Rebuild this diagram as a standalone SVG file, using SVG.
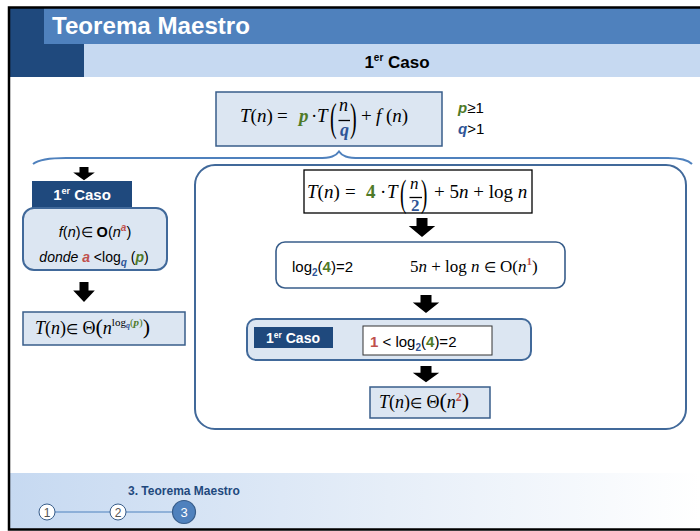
<svg xmlns="http://www.w3.org/2000/svg" width="700" height="531" viewBox="0 0 700 531">
<defs>
<linearGradient id="foot" x1="0" y1="0" x2="1" y2="0">
<stop offset="0" stop-color="#C6D9F1"/>
<stop offset="0.55" stop-color="#E6EEF8"/>
<stop offset="1" stop-color="#FFFFFF"/>
</linearGradient>
<path id="arr" d="M-5,0 H5 V8 H12 L0,19 L-12,8 H-5 Z" fill="#000"/>
</defs>
<style>
.sans{font-family:"Liberation Sans",Arial,sans-serif}
.serif{font-family:"Liberation Serif","Times New Roman",serif}
.it{font-style:italic}
.b{font-weight:bold}
.grn{fill:#4F7A28;font-weight:bold}
.blu{fill:#2F5597;font-weight:bold}
.red{fill:#C0504D;font-weight:bold}
.box{fill:#DCE6F2;stroke:#385D8A;stroke-width:1.5}
.rbox{fill:#DCE6F2;stroke:#41699A;stroke-width:2}
.dark{fill:#1F497D}
.wt{fill:#fff;font-family:"Liberation Sans",Arial,sans-serif;font-weight:bold}
.el{font-size:14px}
</style>
<rect width="700" height="531" fill="#fff"/>
<!-- header -->
<g id="header">
<rect x="9" y="8" width="691" height="36" fill="#4F81BD"/>
<rect x="9" y="8" width="35" height="36" fill="#1F497D"/>
<rect x="9" y="44" width="75" height="33" fill="#1F497D"/>
<rect x="84" y="44" width="616" height="33" fill="#C6D9F1"/>
<text x="52" y="34" class="wt" font-size="23" textLength="198" lengthAdjust="spacingAndGlyphs">Teorema Maestro</text>
<text x="397" y="68" text-anchor="middle" class="sans b" font-size="17" fill="#000">1<tspan font-size="10" dy="-7">er</tspan><tspan dy="7"> Caso</tspan></text>
</g>
<!-- footer -->
<g id="footer">
<rect x="9" y="473" width="691" height="56" fill="url(#foot)"/>
<text x="128" y="495" class="sans b" font-size="12" fill="#1F497D">3. Teorema Maestro</text>
<line x1="55" y1="512" x2="173" y2="512" stroke="#4F81BD" stroke-width="1.2"/>
<g id="step1"><circle cx="47" cy="512" r="8" fill="#fff" stroke="#385D8A" stroke-width="1"/><text x="47" y="516.5" text-anchor="middle" class="sans" font-size="12" fill="#555">1</text></g>
<g id="step2"><circle cx="118" cy="512" r="8" fill="#fff" stroke="#385D8A" stroke-width="1"/><text x="118" y="516.5" text-anchor="middle" class="sans" font-size="12" fill="#555">2</text></g>
<g id="step3"><circle cx="184" cy="512" r="11.5" fill="#4F81BD" stroke="#385D8A" stroke-width="1.2"/><text x="184" y="517" text-anchor="middle" class="sans" font-size="13" fill="#fff">3</text></g>
</g>
<!-- frame -->
<path d="M700,7.5 H9 V529.5 H700" fill="none" stroke="#000" stroke-width="2.5"/>

<!-- main formula -->
<g id="formula">
<rect x="216" y="92" width="226" height="54" class="box"/>
<g class="serif" font-size="19" fill="#000">
<text x="240" y="122"><tspan class="it">T</tspan>(<tspan class="it">n</tspan>)</text>
<text x="277" y="122">=</text>
<text x="299" y="122" class="it grn">p</text>
<text x="311" y="122">·</text>
<text x="317" y="122" class="it">T</text>
<text transform="translate(330,131) scale(1,2.05)" font-size="20">(</text>
<text x="339" y="111" class="it" font-size="18">n</text>
<line x1="338.5" y1="120.5" x2="350" y2="120.5" stroke="#000" stroke-width="1.3"/>
<text x="340" y="136" class="it blu" font-size="18">q</text>
<text transform="translate(350,131) scale(1,2.05)" font-size="20">)</text>
<text x="361" y="122">+</text>
<text x="376" y="122"><tspan class="it">f</tspan> (<tspan class="it">n</tspan>)</text>
</g>
<text x="458" y="113" class="sans" font-size="15" fill="#000"><tspan class="it grn">p</tspan>≥1</text>
<text x="458" y="134" class="sans" font-size="15" fill="#000"><tspan class="it blu">q</tspan>&gt;1</text>
</g>

<!-- left case -->
<g id="left-case-label">
<rect x="32" y="181" width="100" height="28" class="dark"/>
<text x="82" y="200" text-anchor="middle" class="wt" font-size="15">1<tspan font-size="9" dy="-6">er</tspan><tspan dy="6"> Caso</tspan></text>
</g>
<g id="left-condition">
<rect x="23" y="208" width="144" height="62" rx="11" class="rbox"/>
<text x="95" y="237" text-anchor="middle" class="sans" font-size="14.5" fill="#000"><tspan class="it">f</tspan>(<tspan class="it">n</tspan>)<tspan class="el">∈</tspan> <tspan class="b">O</tspan>(<tspan class="it">n</tspan><tspan class="it red" font-size="10" dy="-6">a</tspan><tspan dy="6">)</tspan></text>
<text x="94" y="262" text-anchor="middle" class="sans" font-size="14" fill="#000"><tspan class="it">donde</tspan> <tspan class="it red">a</tspan> &lt;log<tspan class="it blu" font-size="10" dy="4">q</tspan><tspan dy="-4"> (</tspan><tspan class="it grn">p</tspan>)</text>
</g>
<g id="left-result">
<rect x="23" y="312" width="162" height="33" class="box"/>
<text x="35" y="334" class="serif" font-size="18" fill="#000"><tspan class="it">T</tspan>(<tspan class="it">n</tspan>)<tspan class="el">∈</tspan> Θ<tspan font-size="22">(</tspan><tspan class="it">n</tspan><tspan font-size="11" dy="-8">log</tspan><tspan font-size="8" dy="2" class="it blu">q</tspan><tspan font-size="11" dy="-2" fill="#4F7A28">(<tspan class="it grn">p</tspan>)</tspan><tspan font-size="22" dy="8">)</tspan></text>
</g>

<!-- right example panel -->
<g id="example-panel">
<rect x="195" y="165" width="491" height="264" rx="20" fill="#fff" stroke="#41699A" stroke-width="2"/>
</g>
<g id="example-eq">
<rect x="304" y="170" width="228" height="43" fill="#fff" stroke="#000" stroke-width="1.3"/>
<g class="serif" font-size="19" fill="#000">
<text x="307" y="198"><tspan class="it">T</tspan>(<tspan class="it">n</tspan>)</text>
<text x="345" y="198">=</text>
<text x="366" y="198" class="grn">4</text>
<text x="380" y="198">·</text>
<text x="387" y="198" class="it">T</text>
<text transform="translate(400,206) scale(1,1.95)" font-size="19">(</text>
<text x="410" y="189" class="it" font-size="17">n</text>
<line x1="409.5" y1="197.5" x2="422" y2="197.5" stroke="#000" stroke-width="1.3"/>
<text x="411" y="211" class="blu" font-size="17">2</text>
<text transform="translate(421,206) scale(1,1.95)" font-size="19">)</text>
<text x="434" y="198">+ 5<tspan class="it">n</tspan> + log <tspan class="it">n</tspan></text>
</g>
</g>
<g id="example-analysis">
<rect x="276" y="242" width="289" height="46" rx="9" fill="#fff" stroke="#385D8A" stroke-width="1.6"/>
<text x="292" y="272" class="sans" font-size="15" fill="#000">log<tspan class="blu" font-size="10" dy="4">2</tspan><tspan dy="-4">(</tspan><tspan class="grn">4</tspan>)=2</text>
<text x="410" y="272" class="serif" font-size="17" fill="#000">5<tspan class="it">n</tspan> + log <tspan class="it">n</tspan> <tspan class="el">∈</tspan> O(<tspan class="it">n</tspan><tspan class="red" font-size="11" dy="-7">1</tspan><tspan dy="7">)</tspan></text>
</g>
<g id="example-case">
<rect x="247" y="319" width="284" height="41" rx="9" class="rbox"/>
<rect x="254" y="327" width="79" height="21" class="dark"/>
<text x="293" y="343" text-anchor="middle" class="wt" font-size="14">1<tspan font-size="8.5" dy="-5">er</tspan><tspan dy="5"> Caso</tspan></text>
<rect x="363" y="326" width="129" height="29" fill="#fff" stroke="#333" stroke-width="1"/>
<text x="370" y="347" class="sans" font-size="15" fill="#000"><tspan class="red">1</tspan> &lt; log<tspan class="blu" font-size="10" dy="4">2</tspan><tspan dy="-4">(</tspan><tspan class="grn">4</tspan>)=2</text>
</g>
<g id="example-result">
<rect x="370" y="387" width="120" height="31" class="box"/>
<text x="379" y="408" class="serif" font-size="18" fill="#000"><tspan class="it">T</tspan>(<tspan class="it">n</tspan>)<tspan class="el">∈</tspan> Θ<tspan font-size="22">(</tspan><tspan class="it">n</tspan><tspan class="red" font-size="12" dy="-7">2</tspan><tspan font-size="22" dy="7">)</tspan></text>
</g>

<!-- connectors -->
<g id="connectors">
<path d="M33,164 C38,160 46,158 66,158 L318,158 C331,158 336,156 339,151.5 C342,156 347,158 360,158 L668,158 C682,158 688,160 692,164" fill="none" stroke="#4F81BD" stroke-width="2"/>
<use href="#arr" transform="translate(84,167) scale(0.9,0.7)"/>
<use href="#arr" transform="translate(84,282) scale(0.9,1.05)"/>
<use href="#arr" transform="translate(422,218) scale(1.1,1)"/>
<use href="#arr" transform="translate(426,295) scale(1.1,0.95)"/>
<use href="#arr" transform="translate(426,366) scale(1.1,0.85)"/>
</g>
</svg>
